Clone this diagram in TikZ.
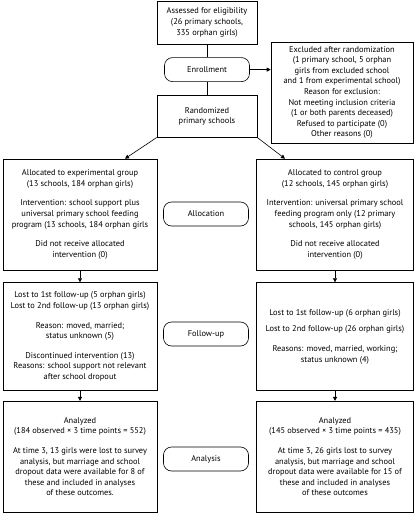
\documentclass[tikz,border=0pt]{standalone}
\usepackage{fontspec}
\setmainfont{PT Sans}
\usepackage{tikz}
\usetikzlibrary{positioning,arrows.meta,calc}

\begin{document}
\begin{tikzpicture}[x=1pt,y=-1pt,node distance=12pt,
    every node/.style={font=\fontsize{8.4}{10.6}\selectfont,align=center},
    box/.style={draw,line width=0.6pt,inner sep=2pt},
    phase/.style={draw,line width=0.6pt,rounded corners=8pt,minimum width=85pt,minimum height=24pt},
    link/.style={line width=0.6pt},
    arr/.style={line width=0.6pt,-{Triangle[length=4pt,width=4pt]}}]
    \useasboundingbox (0,0) rectangle (415,514);

    % enrollment
    \node[box,minimum width=100pt,minimum height=43pt] (assess) at (207,22.5) {Assessed for eligibility\\(26 primary schools,\\335 orphan girls)};
    \node[phase,below=13pt of assess] (enroll) {Enrollment};
    \node[box,minimum width=100pt,minimum height=42pt,below=13pt of enroll] (rand) {Randomized\\primary schools};
    \node[box,minimum width=142pt,minimum height=101pt] (excl) at (342,92.5) {Excluded after randomization\\(1 primary school, 5 orphan\\girls from excluded school\\and 1 from experimental school)\\Reason for exclusion:\\Not meeting inclusion criteria\\(1 or both parents deceased)\\Refused to participate (0)\\Other reasons (0)};

    % allocation
    \node[box,minimum width=154pt,minimum height=111pt] (expalloc) at (80,214.5) {Allocated to experimental group\\(13 schools, 184 orphan girls)\\[9pt]Intervention: school support plus\\universal primary school feeding\\program (13 schools, 184 orphan girls\\[9pt]Did not receive allocated\\intervention (0)};
    \node[box,minimum width=157pt,minimum height=111pt] (ctlalloc) at (335,214.5) {Allocated to control group\\(12 schools, 145 orphan girls)\\[9pt]Intervention: universal primary school\\feeding program only (12 primary\\schools, 145 orphan girls)\\[9pt]Did not receive allocated\\intervention (0)};
    \node[phase] (alloc) at (206,214) {Allocation};

    % follow-up
    \node[box,minimum width=154pt,minimum height=108pt,below=12pt of expalloc] (expfollow) {Lost to 1st follow-up (5 orphan girls)\\Lost to 2nd follow-up (13 orphan girls)\\[9pt]Reason: moved, married;\\status unknown (5)\\[9pt]Discontinued intervention (13)\\Reasons: school support not relevant\\after school dropout};
    \node[box,minimum width=157pt,minimum height=108pt,below=12pt of ctlalloc] (ctlfollow) {Lost to 1st follow-up (6 orphan girls)\\[6pt]Lost to 2nd follow-up (26 orphan girls)\\[9pt]Reasons: moved, married, working;\\status unknown (4)};
    \node[phase] (follow) at (206,334) {Follow-up};

    % analysis
    \node[box,minimum width=154pt,minimum height=111pt,below=10pt of expfollow] (expanal) {Analyzed\\(184 observed × 3 time points = 552)\\[9pt]At time 3, 13 girls were lost to survey\\analysis, but marriage and school\\dropout data were available for 8 of\\these and included in analyses\\of these outcomes.};
    \node[box,minimum width=157pt,minimum height=111pt,below=10pt of ctlfollow] (ctlanal) {Analyzed\\(145 observed × 3 time points = 435)\\[9pt]At time 3, 26 girls lost to survey\\analysis, but marriage and school\\dropout data were available for 15 of\\these and included in analyses\\of these outcomes};
    \node[phase] (anal) at (206,459) {Analysis};

    \draw[link] (assess) -- (enroll);
    \draw[link] (enroll) -- (rand);
    \draw[arr] (enroll.east) -- (enroll.east -| excl.west);
    \draw[arr] (rand.south west) -- ([xshift=45pt]expalloc.north);
    \draw[arr] (rand.south east) -- ([xshift=-50pt]ctlalloc.north);
    \draw[arr] (expalloc) -- (expfollow);
    \draw[arr] (ctlalloc) -- (ctlfollow);
    \draw[arr] (expfollow) -- (expanal);
    \draw[arr] (ctlfollow) -- (ctlanal);
\end{tikzpicture}
\end{document}
